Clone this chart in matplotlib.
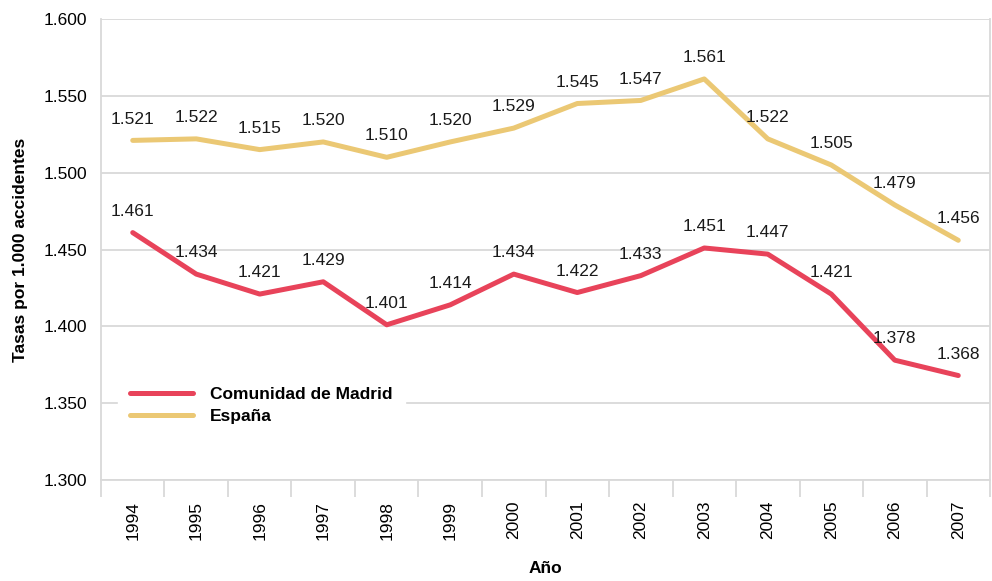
import matplotlib
matplotlib.use("Agg")
import matplotlib.pyplot as plt
import numpy as np

years = ["1994", "1995", "1996", "1997", "1998", "1999", "2000", "2001",
         "2002", "2003", "2004", "2005", "2006", "2007"]
madrid = [1.461, 1.434, 1.421, 1.429, 1.401, 1.414, 1.434, 1.422,
          1.433, 1.451, 1.447, 1.421, 1.378, 1.368]
espana = [1.521, 1.522, 1.515, 1.520, 1.510, 1.520, 1.529, 1.545,
          1.547, 1.561, 1.522, 1.505, 1.479, 1.456]
yticks = [1.300, 1.350, 1.400, 1.450, 1.500, 1.550, 1.600]

plt.rcParams['font.family'] = ['Liberation Sans', 'DejaVu Sans']

fig = plt.figure(figsize=(9.92, 5.81), dpi=100)
ax = fig.add_axes([0.1018, 0.1738, 0.8962, 0.7935])

red = '#E8435A'
yellow = '#EBC874'
grid = '#D9D9D9'

x = np.arange(len(years))
ax.plot(x, madrid, color=red, lw=3.6, solid_capstyle='round', solid_joinstyle='round',
        label='Comunidad de Madrid', zorder=3)
ax.plot(x, espana, color=yellow, lw=3.6, solid_capstyle='round', solid_joinstyle='round',
        label='España', zorder=3)

for series in (madrid, espana):
    for xi, v in zip(x, series):
        ax.annotate(f"{v:.3f}", (xi, v), xytext=(0, 10), textcoords='offset points',
                    ha='center', va='bottom', fontsize=12.5, color='#1a1a1a')

ax.set_xlim(-0.5, len(years) - 0.5)
ax.set_ylim(1.300, 1.600)
ax.set_yticks(yticks)
ax.set_yticklabels([f"{t:.3f}" for t in yticks], fontsize=12.5)
ax.set_xticks(x)
ax.set_xticklabels(years, rotation=90, fontsize=12.5)
ax.tick_params(axis='x', which='major', length=0, pad=15)
ax.tick_params(axis='y', which='major', length=0, pad=10)
ax.set_xticks(np.arange(-0.5, len(years), 1.0), minor=True)
ax.tick_params(axis='x', which='minor', length=12, color=grid, width=1.3)

ax.yaxis.grid(True, color=grid, lw=1.3, zorder=0)
ax.set_axisbelow(True)
ax.spines['top'].set_visible(False)
for s in ['left', 'right', 'bottom']:
    ax.spines[s].set_color(grid)
    ax.spines[s].set_linewidth(1.3)

ax.set_ylabel('Tasas por 1.000 accidentes', fontsize=12.5, fontweight='bold', labelpad=11)
ax.set_xlabel('Año', fontsize=12.5, fontweight='bold', labelpad=15)

leg = ax.legend(loc='upper left', bbox_to_anchor=(0.019, 0.228), frameon=True,
                prop={'weight': 'bold', 'size': 12.5}, handlelength=3.6,
                borderpad=0.7, labelspacing=0.4, handletextpad=1.0,
                borderaxespad=0)
leg.get_frame().set_facecolor('white')
leg.get_frame().set_edgecolor('white')
leg.get_frame().set_alpha(1)
leg.get_frame().set_boxstyle('square', pad=0)
leg.set_zorder(5)

fig.savefig('out.png', dpi=100)
